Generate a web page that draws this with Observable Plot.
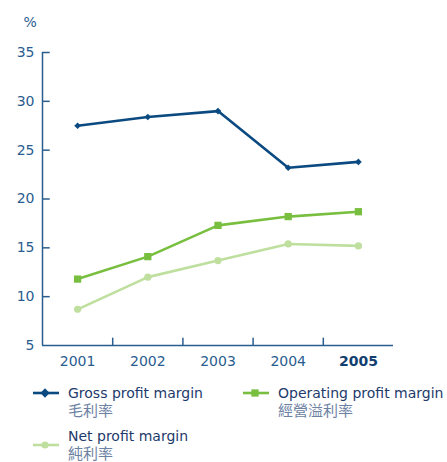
<!DOCTYPE html>
<html>
<head>
<meta charset="utf-8">
<script src="https://cdn.jsdelivr.net/npm/d3@7"></script>
<script src="https://cdn.jsdelivr.net/npm/@observablehq/plot@0.6"></script>
<style>
  body { margin: 0; background: #fff; }
  #chart { position: relative; width: 447px; }
  svg { display: block; }
</style>
</head>
<body>
<div id="chart"></div>
<script>
const years = [2001, 2002, 2003, 2004, 2005];
const gross = [27.5, 28.4, 29.0, 23.2, 23.8];
const operating = [11.8, 14.1, 17.3, 18.2, 18.7];
const net = [8.7, 12.0, 13.7, 15.4, 15.2];
const yTicks = [5, 10, 15, 20, 25, 30, 35];
const seriesEn = ["Gross profit margin", "Operating profit margin", "Net profit margin"];
const seriesZh = ["毛利率", "經營溢利率", "純利率"];
const colors = ["#0b4a80", "#79bf3f", "#bfdf9f"];
const symbols = ["diamond2", "square", "circle"];
const symbolR = [3, 4.1, 3.6];

const axisColor = "#2a5d8f";
const rows = (vals) => years.map((yr, i) => ({year: yr, value: vals[i]}));
const seriesData = [rows(gross), rows(operating), rows(net)];

const lo = years[0] - 0.5, hi = years[years.length - 1] + 0.5;
const boundaries = years.slice(0, -1).map(y => y + 0.5);

const marks = [
  Plot.ruleX([lo], {y1: yTicks[0], y2: yTicks[yTicks.length - 1], stroke: axisColor, strokeWidth: 1.5}),
  Plot.ruleY([yTicks[0]], {x1: lo, x2: hi, stroke: axisColor, strokeWidth: 1.5}),
  Plot.ruleY(yTicks.slice(1), {x1: lo, x2: lo + 0.11, stroke: axisColor, strokeWidth: 1.5}),
  Plot.ruleX(boundaries, {y1: yTicks[0], y2: yTicks[0] + 0.75, stroke: axisColor, strokeWidth: 1.5}),
  Plot.axisY({ticks: yTicks, tickSize: 0, tickPadding: 8, label: null, fill: axisColor}),
  Plot.text(years.filter(y => y !== 2005), {x: d => d, y: yTicks[0], text: d => String(d), dy: 16, fill: axisColor, lineAnchor: "middle"}),
  Plot.text(years.filter(y => y === 2005), {x: d => d, y: yTicks[0], text: d => String(d), dy: 16, fill: "#123f70", fontWeight: "bold", lineAnchor: "middle"}),
  Plot.text(["%"], {frameAnchor: "top-left", dx: -19, dy: -26, fill: axisColor, textAnchor: "start", lineAnchor: "bottom", fontSize: 14})
];
seriesData.forEach((d, i) => {
  marks.push(Plot.lineY(d, {x: "year", y: "value", stroke: colors[i], strokeWidth: 2.6}));
  marks.push(Plot.dot(d, {x: "year", y: "value", fill: colors[i], symbol: symbols[i], r: symbolR[i]}));
});

const plot = Plot.plot({
  width: 447,
  height: 370,
  marginLeft: 42,
  marginRight: 54,
  marginTop: 52,
  marginBottom: 25,
  x: {domain: [lo, hi], axis: null},
  y: {domain: [yTicks[0], yTicks[yTicks.length - 1]], axis: null},
  style: {fontFamily: "DejaVu Sans, sans-serif", fontSize: "14px", color: axisColor, background: "#fff"},
  marks
});
document.getElementById("chart").appendChild(plot);

// Legend below the plot
const legendPos = [
  {x: 33, y: 23, tx: 68, ty: 28, tz: 46},
  {x: 243, y: 23, tx: 278, ty: 28, tz: 46},
  {x: 33, y: 75, tx: 68, ty: 71, tz: 89}
];
const leg = d3.create("svg").attr("width", 447).attr("height", 92)
  .style("font-family", "DejaVu Sans, sans-serif");
seriesEn.forEach((name, i) => {
  const p = legendPos[i];
  const g = leg.append("g");
  g.append("line").attr("x1", p.x).attr("x2", p.x + 26).attr("y1", p.y).attr("y2", p.y)
    .attr("stroke", colors[i]).attr("stroke-width", 2.6);
  g.append("path").attr("transform", `translate(${p.x + 12},${p.y})`)
    .attr("d", d3.symbol(i === 0 ? d3.symbolDiamond2 : i === 1 ? d3.symbolSquare : d3.symbolCircle,
      Math.PI * (i === 0 ? 4.2 : symbolR[i]) ** 2)())
    .attr("fill", colors[i]);
  g.append("text").attr("x", p.tx).attr("y", p.ty).attr("font-size", 14).attr("fill", "#1d3a6b").text(name);
  g.append("text").attr("x", p.tx).attr("y", p.tz).attr("font-size", 15)
    .attr("font-family", "Noto Sans CJK TC, sans-serif").attr("fill", "#6d82a3").text(seriesZh[i]);
});
document.getElementById("chart").appendChild(leg.node());
</script>
</body>
</html>
